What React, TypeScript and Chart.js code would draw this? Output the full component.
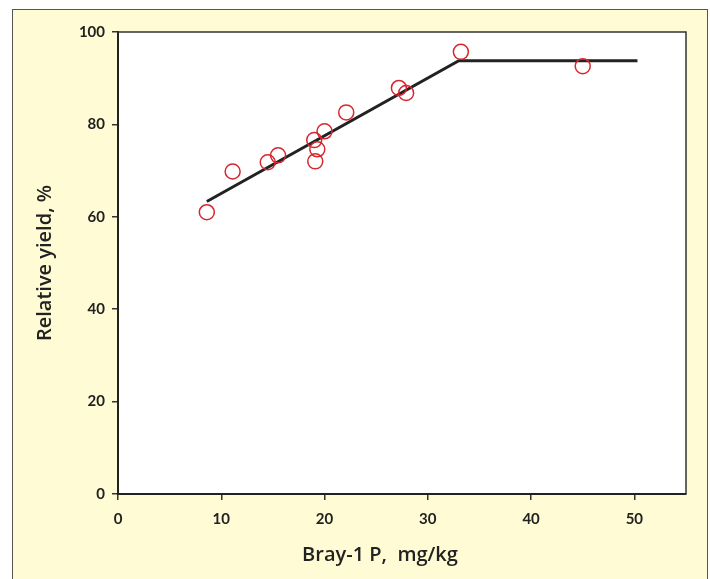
import React, { useEffect, useRef } from "react";
import { Chart, registerables } from "chart.js";

Chart.register(...registerables);

const brayP = [8.6, 11.1, 14.5, 15.5, 19.0, 19.3, 19.1, 20.0, 22.1, 27.2, 27.9, 33.2, 45.0];
const relYield = [61.0, 69.8, 71.8, 73.3, 76.6, 74.6, 72.0, 78.5, 82.6, 87.9, 86.8, 95.7, 92.6];
const fitX = [8.6, 33.0, 50.3];
const fitY = [63.3, 93.8, 93.8];
const xTicks = [0, 10, 20, 30, 40, 50];
const yTicks = [0, 20, 40, 60, 80, 100];
const xTitle = "Bray-1 P,  mg/kg";
const yTitle = "Relative yield, %";

const FONT = "Lato, 'Open Sans', 'DejaVu Sans', sans-serif";
const TITLE_FONT = "'Open Sans', Lato, 'DejaVu Sans', sans-serif";

export default function App() {
  const ref = useRef<HTMLCanvasElement | null>(null);
  useEffect(() => {
    if (!ref.current) return;
    const framePlugin = {
      id: "frame",
      beforeDraw(chart: any) {
        const { ctx, chartArea: a } = chart;
        ctx.save();
        ctx.fillStyle = "#ffffff";
        ctx.fillRect(a.left, a.top, a.right - a.left, a.bottom - a.top);
        ctx.restore();
      },
      afterDraw(chart: any) {
        const { ctx, chartArea: a } = chart;
        ctx.save();
        ctx.strokeStyle = "#333";
        ctx.lineWidth = 1.5;
        ctx.beginPath();
        ctx.moveTo(a.left, a.top);
        ctx.lineTo(a.right, a.top);
        ctx.lineTo(a.right, a.bottom);
        ctx.stroke();
        ctx.fillStyle = "#222";
        ctx.font = `600 20px ${TITLE_FONT}`;
        ctx.textAlign = "center";
        ctx.textBaseline = "middle";
        ctx.fillText(xTitle, 380, 555);
        ctx.translate(45, (a.top + a.bottom) / 2);
        ctx.rotate(-Math.PI / 2);
        ctx.fillText(yTitle, 0, 0);
        ctx.restore();
      },
    };
    const chart = new Chart(ref.current, {
      type: "scatter",
      data: {
        datasets: [
          {
            label: "fit",
            data: fitX.map((x, i) => ({ x, y: fitY[i] })),
            showLine: true,
            borderColor: "#222",
            borderWidth: 3,
            pointRadius: 0,
            order: 2,
          } as any,
          {
            label: "obs",
            data: brayP.map((x, i) => ({ x, y: relYield[i] })),
            pointRadius: 7.5,
            pointBorderWidth: 1.5,
            borderColor: "#d8262e",
            backgroundColor: "rgba(0,0,0,0)",
            order: 1,
          },
        ],
      },
      options: {
        animation: false,
        responsive: false,
        layout: { padding: { top: 32, right: 24, left: 0, bottom: 0 } },
        plugins: { legend: { display: false }, tooltip: { enabled: false } },
        scales: {
          x: {
            type: "linear",
            min: 0,
            max: 55,
            afterBuildTicks(scale: any) {
              scale.ticks = xTicks.map((v) => ({ value: v }));
            },
            afterFit(scale: any) {
              scale.height = 85;
            },
            grid: { display: true, drawOnChartArea: false, drawTicks: true, tickLength: 6, color: "#333", lineWidth: 1.5 },
            border: { display: true, color: "#222", width: 2 },
            ticks: { color: "#222", padding: 10, font: { family: FONT, size: 15, weight: "bold" } },
          },
          y: {
            type: "linear",
            min: 0,
            max: 100,
            afterBuildTicks(scale: any) {
              scale.ticks = yTicks.map((v) => ({ value: v }));
            },
            afterFit(scale: any) {
              scale.width = 118;
            },
            grid: { display: true, drawOnChartArea: false, drawTicks: true, tickLength: 6, color: "#333", lineWidth: 1.5 },
            border: { display: true, color: "#222", width: 2 },
            ticks: { color: "#222", padding: 7, font: { family: FONT, size: 15, weight: "bold" } },
          },
        },
      },
      plugins: [framePlugin],
    } as any);
    return () => chart.destroy();
  }, []);
  return (
    <div style={{ position: "fixed", left: 0, top: 0, width: 710, height: 579, background: "#fff", overflow: "hidden" }}>
      <div
        style={{
          position: "absolute",
          left: 12,
          top: 9,
          width: 696,
          height: 620,
          boxSizing: "border-box",
          border: "1.5px solid #555",
          background: "#fffbd4",
        }}
      />
      <canvas ref={ref} width={710} height={579} style={{ position: "absolute", left: 0, top: 0, width: 710, height: 579 }} />
    </div>
  );
}
